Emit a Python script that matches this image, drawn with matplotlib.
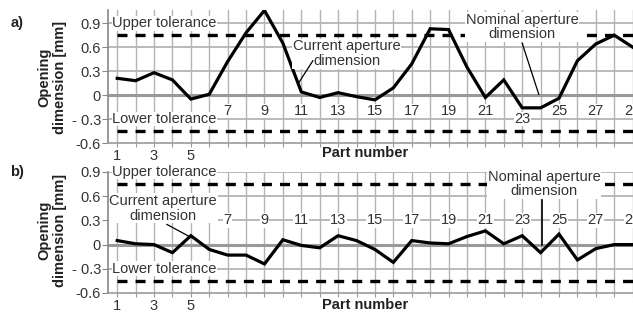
import matplotlib
matplotlib.use('Agg')
import matplotlib.pyplot as plt
import numpy as np

plt.rcParams['font.family'] = ['Liberation Sans', 'DejaVu Sans']
plt.rcParams['lines.scale_dashes'] = False

parts = list(range(1, 30))
a_vals = [0.21, 0.18, 0.28, 0.19, -0.05, 0.01, 0.42, 0.78, 1.06, 0.65,
          0.04, -0.03, 0.03, -0.02, -0.06, 0.09, 0.39, 0.83, 0.82, 0.35,
          -0.03, 0.19, -0.16, -0.16, -0.04, 0.43, 0.64, 0.75, 0.60]
b_vals = [0.05, 0.01, 0.0, -0.10, 0.11, -0.06, -0.13, -0.13, -0.24, 0.06,
          -0.01, -0.04, 0.11, 0.05, -0.06, -0.22, 0.05, 0.02, 0.01, 0.10,
          0.17, 0.01, 0.11, -0.10, 0.13, -0.19, -0.05, 0.0, 0.0]
upper_tol = 0.75
lower_tol = -0.45
yticks = [-0.6, -0.3, 0, 0.3, 0.6, 0.9]
yticklabels = ['-0.6', '- 0.3', '0', '0.3', '0.6', '0.9']
inner_ticks = [7, 9, 11, 13, 15, 17, 19, 21, 23, 25, 27, 29]

W, H = 633, 313
fig = plt.figure(figsize=(W / 100, H / 100), dpi=100)
txt = '#333333'
grid_c = '#b4b4b4'
fs = 10.5


def panel(top_px, bot_px, ytop, vals, lbl_y, special):
    ax = fig.add_axes([108 / W, 1 - bot_px / H, (W - 108) / W, (bot_px - top_px) / H])
    ax.set_xlim(0.5, 29.02)
    ax.set_ylim(-0.6, ytop)
    for s in ['top', 'right']:
        ax.spines[s].set_visible(False)
    ax.spines['left'].set_color('#888888')
    ax.spines['bottom'].set_color('#999999')
    ax.spines['left'].set_linewidth(1.2)
    ax.spines['bottom'].set_linewidth(1.2)
    ax.set_yticks(yticks)
    ax.set_yticklabels(yticklabels, fontsize=fs, color=txt)
    ax.set_xticks(parts)
    ax.set_xticklabels([str(p) if p in (1, 3, 5) else '' for p in parts], fontsize=fs, color=txt)
    ax.tick_params(axis='y', length=4, color='#888888', pad=1)
    ax.tick_params(axis='x', length=3, color='#999999', pad=1)
    for p in parts:
        ax.axvline(p, color=grid_c, lw=1.0, zorder=1)
    for v in yticks[1:]:
        if v != 0:
            ax.axhline(v, color=grid_c, lw=1.3, zorder=1)
    ax.axhline(0, color='#999999', lw=2.2, zorder=2)
    for tol in (upper_tol, lower_tol):
        ax.plot([1, 29.5], [tol, tol], color='black', lw=2.4, dashes=(7.2, 5.8), zorder=3)
    ax.plot(parts, vals, color='black', lw=2.3, zorder=5, solid_joinstyle='miter')
    box = dict(facecolor='white', edgecolor='none', pad=0.3)
    for p in inner_ticks:
        y = special.get(p, lbl_y)
        ax.text(p, y, str(p), ha='center', va='center', fontsize=fs, color=txt,
                bbox=box, zorder=4)
    ax.text(0.72, 0.9, 'Upper tolerance', ha='left', va='center', fontsize=fs,
            color=txt, bbox=box, zorder=6)
    ax.text(0.72, -0.3, 'Lower tolerance', ha='left', va='center', fontsize=fs,
            color=txt, bbox=box, zorder=6)
    return ax


ax_a = panel(10, 143, 1.065, a_vals, -0.2, {23: -0.3})
ax_b = panel(172, 293, 0.9, b_vals, 0.3, {})

box = dict(facecolor='white', edgecolor='none', pad=0.5)
# panel a annotations
ax_a.text(13.47, 0.52, 'Current aperture\ndimension', ha='center', va='center',
          fontsize=fs, color=txt, bbox=box, zorder=6, linespacing=1.05)
ax_a.plot([11.63, 10.82], [0.43, 0.14], color='black', lw=0.9, zorder=6)
ax_a.text(23.0, 0.85, 'Nominal aperture\ndimension', ha='center', va='center',
          fontsize=fs, color=txt, bbox=box, zorder=6, linespacing=1.05)
ax_a.plot([23.0, 23.9], [0.65, 0.01], color='black', lw=0.9, zorder=6)
# panel b annotations
ax_b.text(3.5, 0.45, 'Current aperture\ndimension', ha='center', va='center',
          fontsize=fs, color=txt, bbox=box, zorder=6, linespacing=1.05)
ax_b.plot([3.7, 5.0], [0.25, 0.09], color='black', lw=0.9, zorder=6)
ax_b.text(24.2, 0.75, 'Nominal aperture\ndimension', ha='center', va='center',
          fontsize=fs, color=txt, bbox=box, zorder=6, linespacing=1.05)
ax_b.plot([24.1, 24.1], [0.55, 0.0], color='black', lw=1.2, zorder=6)

for ax, cy in ((ax_a, 77), (ax_b, 230)):
    fig.text(52 / W, 1 - cy / H, 'Opening\ndimension [mm]', rotation=90, ha='center',
             va='center', fontsize=fs, fontweight='bold', color='#222222')

fig.text(365 / W, 1 - 153 / H, 'Part number', ha='center', va='center', fontsize=fs,
         fontweight='bold', color='#222222')
fig.text(365 / W, 1 - 305 / H, 'Part number', ha='center', va='center', fontsize=fs,
         fontweight='bold', color='#222222')
fig.text(17 / W, 1 - 23 / H, 'a)', ha='center', va='center', fontsize=fs,
         fontweight='bold', color='#222222')
fig.text(17 / W, 1 - 172 / H, 'b)', ha='center', va='center', fontsize=fs,
         fontweight='bold', color='#222222')

fig.savefig('out.png', dpi=100, facecolor='white')
